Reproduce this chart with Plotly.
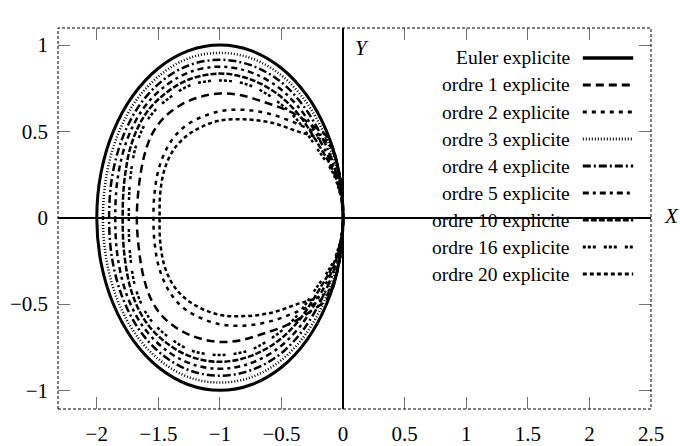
import plotly.graph_objects as go

SERIF = "Liberation Serif"

# upper half of each stability boundary,
# going from the origin round to the left crossing of the real axis
euler_x = [0, -0.034, -0.134, -0.293, -0.5, -0.741, -1.0, -1.259, -1.5, -1.707, -1.866, -1.966, -2.0]
euler_y = [0, 0.259, 0.5, 0.707, 0.866, 0.966, 1.0, 0.966, 0.866, 0.707, 0.5, 0.259, 0]

o1_x = [0, -0.03, -0.12, -0.26, -0.43, -0.65, -0.84, -1.0, -1.16, -1.32, -1.46, -1.555, -1.62, -1.66, -1.675]
o1_y = [0, 0.25, 0.46, 0.54, 0.614, 0.672, 0.711, 0.72, 0.70, 0.653, 0.576, 0.479, 0.344, 0.17, 0]

o2_x = [0, -0.03, -0.1, -0.19, -0.35, -0.565, -0.78, -1.02, -1.27, -1.40, -1.49, -1.53, -1.54]
o2_y = [0, 0.25, 0.42, 0.48, 0.537, 0.595, 0.624, 0.614, 0.537, 0.44, 0.30, 0.15, 0]

o3_x = [0, -0.04, -0.15, -0.31, -0.51, -0.75, -1.0, -1.25, -1.48, -1.68, -1.83, -1.92, -1.95]
o3_y = [0, 0.25, 0.48, 0.68, 0.83, 0.925, 0.955, 0.925, 0.83, 0.68, 0.48, 0.25, 0]

o4_x = [0, -0.05, -0.17, -0.33, -0.52, -0.755, -1.0, -1.245, -1.465, -1.65, -1.79, -1.875, -1.90]
o4_y = [0, 0.245, 0.465, 0.655, 0.795, 0.885, 0.915, 0.885, 0.795, 0.655, 0.465, 0.24, 0]

o5_x = [0, -0.055, -0.19, -0.35, -0.535, -0.76, -1.0, -1.24, -1.45, -1.625, -1.755, -1.83, -1.85]
o5_y = [0, 0.24, 0.45, 0.63, 0.76, 0.845, 0.875, 0.845, 0.76, 0.63, 0.45, 0.23, 0]

o10_x = [0, -0.06, -0.21, -0.37, -0.55, -0.765, -1.0, -1.235, -1.435, -1.6, -1.715, -1.775, -1.79]
o10_y = [0, 0.235, 0.435, 0.605, 0.725, 0.805, 0.835, 0.805, 0.725, 0.605, 0.435, 0.22, 0]

o16_x = [0, -0.065, -0.23, -0.39, -0.565, -0.77, -1.0, -1.23, -1.42, -1.575, -1.68, -1.73, -1.74]
o16_y = [0, 0.23, 0.42, 0.58, 0.69, 0.77, 0.795, 0.77, 0.69, 0.58, 0.42, 0.21, 0]

o20_x = [0, -0.03, -0.1, -0.2, -0.37, -0.58, -0.8, -1.02, -1.24, -1.37, -1.45, -1.485, -1.49]
o20_y = [0, 0.25, 0.41, 0.46, 0.50, 0.55, 0.57, 0.56, 0.49, 0.40, 0.28, 0.14, 0]

labels = ["Euler explicite", "ordre 1 explicite", "ordre 2 explicite", "ordre 3 explicite",
          "ordre 4 explicite", "ordre 5 explicite", "ordre 10 explicite",
          "ordre 16 explicite", "ordre 20 explicite"]
series = [(euler_x, euler_y), (o1_x, o1_y), (o2_x, o2_y), (o3_x, o3_y), (o4_x, o4_y),
          (o5_x, o5_y), (o10_x, o10_y), (o16_x, o16_y), (o20_x, o20_y)]

x_ticks = [-2, -1.5, -1, -0.5, 0, 0.5, 1, 1.5, 2, 2.5]
y_ticks = [-1, -0.5, 0, 0.5, 1]

# gnuplot-ish line types
DASHES = ["solid", "8px,5px", "4px,5px", "1px,2px", "8px,3px,2px,3px",
          "6px,4px,3px,4px", "6px,2px", "3px,2px,3px,2px,3px,8px", "4px,3px"]
WIDTHS = [3, 2.5, 2.5, 2.5, 2.5, 2.5, 2.5, 2.5, 2.5]
KEY_WIDTHS = [3.5, 3, 3, 3, 3, 3, 3, 3, 3]


def fmt(v):
    s = f"{v:g}"
    return s.replace("-", "\u2212")


fig = go.Figure()

for (xs, ys), name, dash, w in zip(series, labels, DASHES, WIDTHS):
    # boundary is symmetric about the real axis: close it with the mirror image
    full_x = list(xs) + list(xs[::-1][1:])
    full_y = list(ys) + [-v for v in ys[::-1][1:]]
    fig.add_trace(go.Scatter(
        x=full_x, y=full_y, mode="lines", name=name,
        line=dict(color="black", width=w, dash=dash, shape="spline", smoothing=1.0),
        showlegend=False,
    ))

# key drawn by hand, gnuplot style: text right-aligned, sample to the right
row0, step = 58, 27
for i, (name, dash, w) in enumerate(zip(labels, DASHES, KEY_WIDTHS)):
    py = (409 - (row0 + step * i)) / 381
    fig.add_annotation(
        x=0.867, y=py, xref="paper", yref="paper", text=name,
        showarrow=False, xanchor="right", yanchor="middle",
        font=dict(family=SERIF, size=19.5, color="black"),
    )
    fig.add_shape(type="line", xref="paper", yref="paper",
                  x0=0.885, x1=0.970, y0=py, y1=py,
                  line=dict(color="black", width=w, dash=dash))

# dashed frame
fig.add_shape(type="rect", xref="paper", yref="paper", x0=0, x1=1, y0=0, y1=1,
              line=dict(color="black", width=1, dash="3px,2px"), layer="above")

fig.add_annotation(x=0.513, y=0.948, xref="paper", yref="paper", text="<i>Y</i>",
                   showarrow=False, xanchor="center", yanchor="middle",
                   font=dict(family=SERIF, size=21, color="black"))
fig.add_annotation(x=1.034, y=0.507, xref="paper", yref="paper", text="<i>X</i>",
                   showarrow=False, xanchor="center", yanchor="middle",
                   font=dict(family=SERIF, size=21, color="black"))

axis_common = dict(
    showgrid=False, showline=False, automargin=False,
    zeroline=True, zerolinecolor="black", zerolinewidth=2,
    ticks="inside", ticklen=12, tickwidth=1, tickcolor="rgba(0,0,0,0.55)",
    mirror="ticks",
    tickfont=dict(family=SERIF, size=21, color="black"),
)

fig.update_xaxes(range=[-2.315, 2.5], tickvals=x_ticks,
                 ticktext=[fmt(v) for v in x_ticks], ticklabelstandoff=10, **axis_common)
fig.update_yaxes(range=[-1.108, 1.099], tickvals=y_ticks,
                 ticktext=[fmt(v) for v in y_ticks], ticklabelstandoff=9, **axis_common)

fig.update_layout(
    width=680, height=446,
    margin=dict(l=58, r=29, t=28, b=37),
    paper_bgcolor="white", plot_bgcolor="white",
    showlegend=False,
)

fig.write_html("out.html", config={"displayModeBar": False},
               post_script="document.body.style.margin='0';")
